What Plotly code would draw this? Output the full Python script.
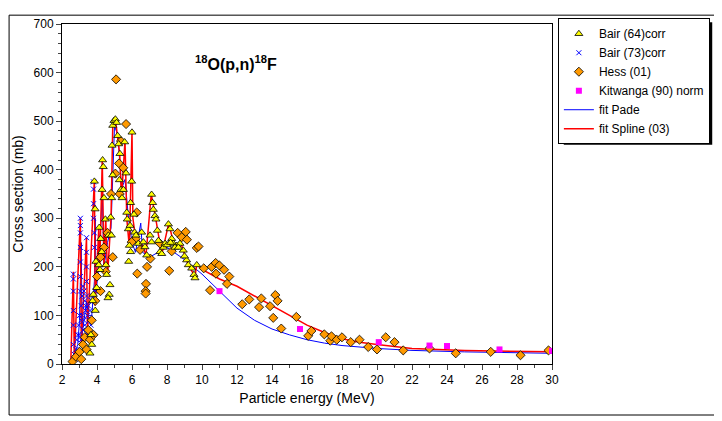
import plotly.graph_objects as go

bair64_e = [3.85,3.89,3.94,3.98,3.60,3.79,3.75,4.13,4.21,4.27,4.17,4.10,4.32,4.36,4.29,4.40,4.48,4.51,4.65,4.55,4.74,4.70,4.63,4.78,4.82,4.90,4.97,5.05,5.12,5.18,5.24,4.86,4.90,4.84,5.31,5.28,5.37,5.43,5.51,5.58,5.66,5.70,5.73,5.79,6.0,5.98,5.92,5.89,5.85,5.92,5.81,6.11,6.15,6.23,6.36,6.55,6.65,6.74,6.84,7.12,7.18,7.22,7.31,7.37,7.03,7.12,7.45,7.51,7.60,7.70,7.89,8.08,8.17,8.27,8.36,8.55,8.74,8.93,9.12,9.22,9.41,9.54,9.60,9.70,3.7,3.65,3.9,7.8,8.0,8.2,8.45,8.65,9.0]
bair64_s = [376,319,211,157,22,143,130,281,258,231,194,204,420,406,359,342,298,204,265,184,163,143,136,302,265,491,501,504,497,470,453,450,389,342,433,379,359,342,359,457,393,312,298,278,477,376,332,285,244,231,211,308,271,265,248,271,251,241,224,349,332,318,305,298,265,251,275,254,231,227,248,288,278,258,248,244,248,234,214,204,197,184,177,204,40,60,110,240,245,250,240,240,222]

bair73_e = [2.65,2.65,2.65,2.65,2.65,2.65,2.7,2.75,2.8,2.85,2.9,2.95,3.0,3.05,3.05,3.05,3.05,3.05,3.05,3.05,3.1,3.1,3.15,3.2,3.25,3.3,3.35,3.4,3.4,3.4,3.4,3.4,3.45,3.5,3.55,3.6,3.65,3.7,3.75,3.8,3.8,3.8,3.8,3.85,3.85,3.9,3.0,3.1,3.2,3.3,3.5,3.6,2.9,3.15,3.25,3.35]
bair73_s = [185,175,150,110,80,40,20,10,30,50,60,80,100,300,285,270,240,210,180,150,120,90,140,160,150,130,110,260,230,200,170,140,100,120,90,110,80,130,140,375,360,330,300,270,240,150,60,50,70,80,60,95,20,100,90,120]

hess_e = [5.09,5.66,5.37,5.26,5.05,5.5,6.27,6.21,5.98,6.46,6.3,6.8,6.78,6.78,6.86,7.05,7.6,8.13,8.27,8.61,8.84,9.07,9.14,9.7,9.8,10.1,10.46,10.55,10.78,10.99,10.8,11.26,11.56,11.43,12.3,12.7,13.26,13.39,13.89,14.07,14.19,14.32,14.53,15.39,16.07,16.25,16.99,17.33,17.4,17.7,18.0,18.5,19.0,19.5,20.0,20.5,21.0,21.5,23.0,24.5,26.5,28.2,29.8,2.6,2.8,3.0,3.2,3.3,3.5,3.6,3.7,3.8,3.4,3.1,3.9,4.0,4.2,4.4,4.6,4.8,4.2,4.5,4.9,5.3]
hess_s = [586,494,459,413,392,404,312,258,251,235,186,165,150,145,200,217,248,192,232,270,261,272,256,239,242,197,152,200,208,203,186,194,180,165,123,133,117,135,119,95,142,130,73,97,58,68,61,48,57,50,55,45,50,35,30,55,45,28,32,22,25,18,28,5,15,25,40,55,70,50,90,60,30,10,130,180,220,240,270,350,150,190,220,350]

kit_e = [11.0,15.6,20.1,23.0,24.0,27.0,30.0]
kit_s = [150,72,45,38,37,30,27]

pade_e = [2.5,2.7,2.9,3.0,3.1,3.15,3.4,3.45,3.7,3.85,3.9,3.95,4.1,4.3,4.4,4.6,4.8,5.0,5.2,5.4,5.6,5.8,6.0,6.2,6.5,6.6,7.0,7.5,8,9,10,11,12,13,14,15,16,17,18,20,22,25,30]
pade_s = [0,20,40,90,250,60,130,100,100,170,300,150,200,350,200,250,280,490,470,360,380,300,250,230,290,230,220,230,240,215,185,150,115,90,72,60,50,43,38,32,28,25,22]

spl_e = [2.5,2.65,2.7,3.05,3.1,3.4,3.45,3.85,3.9,4.1,4.15,4.3,4.4,4.5,4.6,4.8,4.9,5.05,5.2,5.3,5.4,5.6,5.7,5.85,6.0,6.05,6.2,6.5,6.8,7.1,7.4,7.7,8.1,8.4,8.8,9.2,9.6,9.7,10,11,12,13,14,15,16,17,18,19,20,22,25,30]
spl_s = [0,190,10,300,40,260,60,380,120,280,190,420,200,300,180,300,490,505,460,430,340,460,300,240,480,300,260,250,225,350,290,225,290,245,248,205,180,205,195,175,160,140,120,100,80,65,52,45,40,32,28,25]

fig = go.Figure()
fig.add_trace(go.Scatter(x=pade_e, y=pade_s, mode="lines", line=dict(color="#0000FF", width=1), name="fit Pade", legendrank=5))
fig.add_trace(go.Scatter(x=spl_e, y=spl_s, mode="lines", line=dict(color="#FF0000", width=1.5), name="fit Spline (03)", legendrank=6))
fig.add_trace(go.Scatter(x=bair73_e, y=bair73_s, mode="markers", marker=dict(symbol="x-thin", size=5, line=dict(color="#0000FF", width=1)), name="Bair (73)corr", legendrank=2))
fig.add_trace(go.Scatter(x=hess_e, y=hess_s, mode="markers", marker=dict(symbol="diamond", size=7, color="#FF9900", line=dict(color="black", width=0.8)), name="Hess (01)", legendrank=3))
fig.add_trace(go.Scatter(x=bair64_e, y=bair64_s, mode="markers", marker=dict(symbol="triangle-up", size=7, color="#FFFF00", line=dict(color="black", width=0.8)), name="Bair (64)corr", legendrank=1))
fig.add_trace(go.Scatter(x=kit_e, y=kit_s, mode="markers", marker=dict(symbol="square", size=6, color="#FF00FF"), name="Kitwanga (90) norm", legendrank=4))

fig.update_layout(
    width=714, height=413, paper_bgcolor="white", plot_bgcolor="white",
    margin=dict(l=54, r=170, t=10, b=57),
    font=dict(family="Liberation Sans, Arial", size=12, color="black"),
    legend=dict(x=1.012, y=1.017, xanchor="left", yanchor="top", bordercolor="black", borderwidth=1,
                bgcolor="white", font=dict(size=12), tracegroupgap=0, itemwidth=30),
    xaxis=dict(range=[2, 30], tickvals=list(range(2, 31, 2)), showgrid=False, zeroline=False,
               showline=True, linecolor="black", mirror=True, ticks="outside", ticklen=5,
               minor=dict(dtick=1, ticks="outside", ticklen=3),
               title=dict(text="Particle energy (MeV)", standoff=6)),
    yaxis=dict(range=[0, 700], dtick=100, showgrid=False, zeroline=False,
               showline=True, linecolor="black", mirror=True, ticks="outside", ticklen=5,
               minor=dict(dtick=20, ticks="outside", ticklen=3),
               title=dict(text="Cross section (mb)", standoff=6)),
    shapes=[
        dict(type="rect", xref="paper", yref="paper", x0=-0.108, x1=1.335, y0=-0.150, y1=1.026,
             line=dict(color="black", width=1), layer="below"),
        dict(type="rect", xref="paper", yref="paper", x0=1.024, x1=1.327, y0=0.645, y1=1.005,
             fillcolor="black", line=dict(width=0), layer="below"),
    ],
    annotations=[dict(text="<b><sup>18</sup>O(p,n)<sup>18</sup>F</b>", x=0.355, y=0.92, xref="paper", yref="paper",
                      showarrow=False, font=dict(size=16))],
)
fig.write_html("out.html")
